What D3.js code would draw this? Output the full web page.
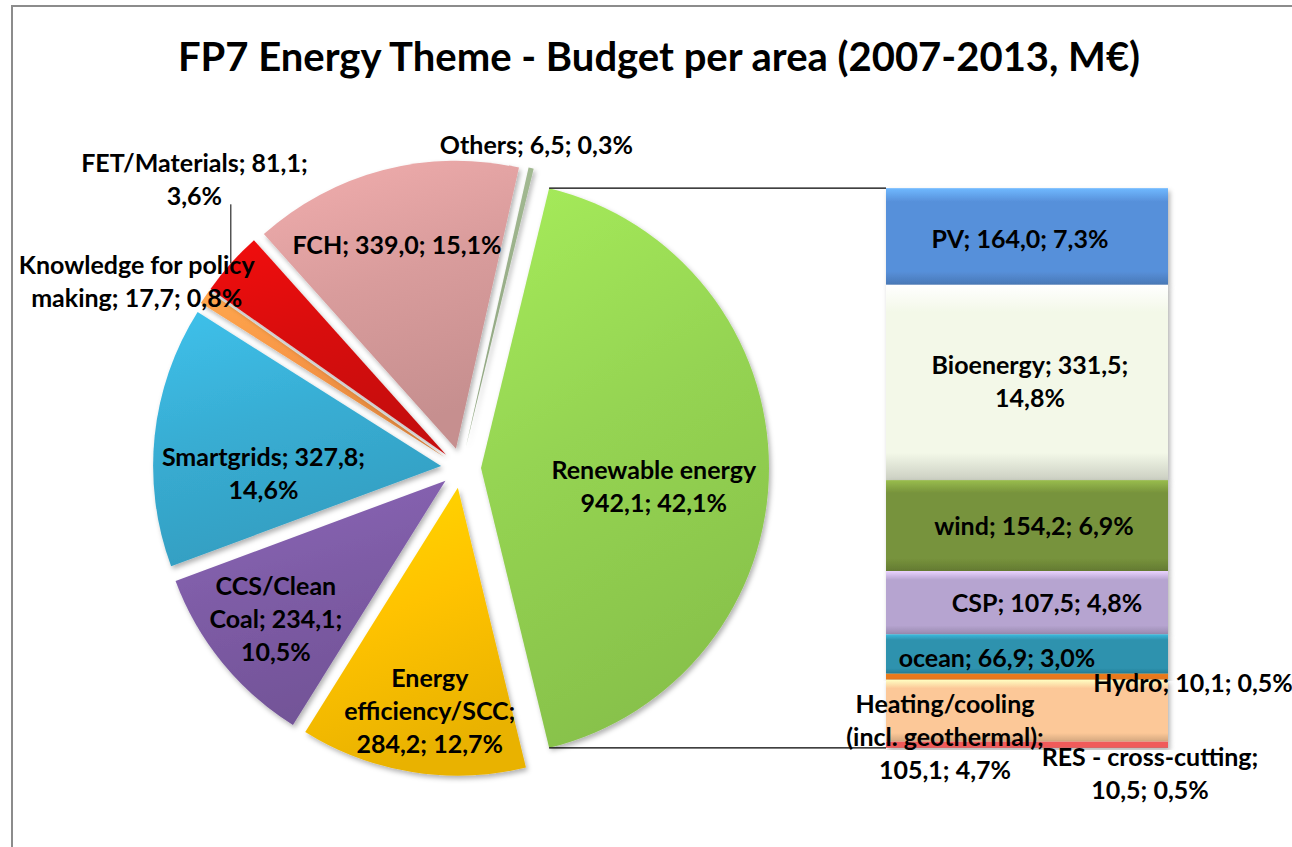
<!DOCTYPE html>
<html>
<head>
<meta charset="UTF-8">
<script src="https://d3js.org/d3.v7.min.js"></script>
<style>
  body { margin: 0; background: #fff; }
  text { font-family: Lato, "Open Sans", sans-serif; font-weight: bold; fill: #000; }
</style>
</head>
<body>
<div id="chart"></div>
<script>

// bar of the pie: breakdown of the renewable energy slice (M€)
var barNames  = ["PV", "Bioenergy", "wind", "CSP", "ocean", "Hydro", "Heating/cooling", "RES - cross-cutting"];
var barValues = [164.0, 331.5, 154.2, 107.5, 66.9, 10.1, 105.1, 10.5];
var barLabels = [
  ["PV; 164,0; 7,3%"],
  ["Bioenergy; 331,5;", "14,8%"],
  ["wind; 154,2; 6,9%"],
  ["CSP; 107,5; 4,8%"],
  ["ocean; 66,9; 3,0%"],
  ["Hydro; 10,1; 0,5%"],
  ["Heating/cooling", "(incl. geothermal);", "105,1; 4,7%"],
  ["RES - cross-cutting;", "10,5; 0,5%"]
];
var barColors = ["#5790DA", "#F3F8E8", "#77933C", "#B6A4D0", "#2E92AE", "#E8781C", "#FCC898", "#F05A5A"];

// pie slices, clockwise from the renewable slice (its size is the bar total)
var pieNames  = ["Renewable energy", "Energy efficiency/SCC", "CCS/Clean Coal", "Smartgrids",
                 "Knowledge for policy making", "FET/Materials", "FCH", "Others"];
var pieValues = [d3.sum(barValues), 284.2, 234.1, 327.8, 17.7, 81.1, 339.0, 6.5];
var pieLabels = [
  ["Renewable energy", "942,1; 42,1%"],
  ["Energy", "efficiency/SCC;", "284,2; 12,7%"],
  ["CCS/Clean", "Coal; 234,1;", "10,5%"],
  ["Smartgrids; 327,8;", "14,6%"],
  ["Knowledge for policy", "making; 17,7; 0,8%"],
  ["FET/Materials; 81,1;", "3,6%"],
  ["FCH; 339,0; 15,1%"],
  ["Others; 6,5; 0,3%"]
];
var pieColors = ["#95D452", "#FFC300", "#7E5CA6", "#38ADD3", "#F79646", "#D90F0F", "#D99C9C", "#9AB08A"];

var W = 1292, H = 847;
var cx = 461, cy = 468, R = 288, explode = 20;
var lineH = 33;

// label placement: fraction of radius along the slice middle, plus nudge
var pieLabelPos = [
  {f: 0.60, dx: 0, dy: 19},
  {f: 0.787, dx: 8, dy: 0},
  {f: 0.76, dx: 0, dy: 0},
  {f: 0.62, dx: 0, dy: 26},
  {f: 1.23, dx: -13, dy: 21},
  {f: 1.29, dx: 26, dy: -28},
  {f: 0.73, dx: -6, dy: 0},
  {f: 1.08, dx: 0, dy: 0}
];
var barLabelPos = [
  {dx: -7, dy: 3}, {dx: 3, dy: -1}, {dx: 7, dy: 1}, {dx: 20, dy: 1},
  {dx: -30, dy: 4}, {dx: 166, dy: 7}, {dx: -82, dy: 27}, {dx: 123, dy: 29}
];

var svg = d3.select("#chart").append("svg")
  .attr("width", W)
  .attr("height", H);

var defs = svg.append("defs");

var shadow = defs.append("filter").attr("id", "shadow")
  .attr("x", "-20%").attr("y", "-20%").attr("width", "140%").attr("height", "140%");
shadow.append("feDropShadow")
  .attr("dx", 2).attr("dy", 3).attr("stdDeviation", 2.5)
  .attr("flood-color", "#000").attr("flood-opacity", 0.3);

function sliceGrad(id, c) {
  var g = defs.append("linearGradient").attr("id", id)
    .attr("x1", 0).attr("y1", 0).attr("x2", 0.3).attr("y2", 1);
  g.append("stop").attr("offset", "0%").attr("stop-color", d3.color(c).brighter(0.3));
  g.append("stop").attr("offset", "50%").attr("stop-color", c);
  g.append("stop").attr("offset", "100%").attr("stop-color", d3.color(c).darker(0.25));
}
function barGrad(id, c) {
  var g = defs.append("linearGradient").attr("id", id)
    .attr("x1", 0).attr("y1", 0).attr("x2", 0).attr("y2", 1);
  g.append("stop").attr("offset", "0%").attr("stop-color", d3.color(c).brighter(0.7));
  g.append("stop").attr("offset", "14%").attr("stop-color", c);
  g.append("stop").attr("offset", "86%").attr("stop-color", c);
  g.append("stop").attr("offset", "100%").attr("stop-color", d3.color(c).darker(0.5));
}
pieColors.forEach(function(c, i) { sliceGrad("sg" + i, c); });
barColors.forEach(function(c, i) { barGrad("bg" + i, c); });

// chart area frame
svg.append("rect")
  .attr("x", 12).attr("y", 6)
  .attr("width", W + 20).attr("height", H + 20)
  .attr("fill", "none")
  .attr("stroke", "#8c8c8c")
  .attr("stroke-width", 2);

// title
svg.append("text")
  .attr("x", 659).attr("y", 57)
  .attr("dy", "0.35em")
  .attr("text-anchor", "middle")
  .style("font-size", "40px")
  .text("FP7 Energy Theme - Budget per area (2007-2013, M€)");

// pie
var a0 = 2 * Math.PI * pieValues[0] / d3.sum(pieValues);
var start = Math.PI / 2 - a0 / 2;
var pie = d3.pie().sort(null).startAngle(start).endAngle(start + 2 * Math.PI);
var arcs = pie(pieValues);
var arc = d3.arc().innerRadius(0).outerRadius(R);

function mid(d) { return (d.startAngle + d.endAngle) / 2; }
function polar(a, r) { return [Math.sin(a) * r, -Math.cos(a) * r]; }

var slices = svg.append("g").attr("transform", "translate(" + cx + "," + cy + ")");
slices.selectAll("path")
  .data(arcs)
  .enter()
  .append("path")
    .attr("transform", function(d) { var o = polar(mid(d), explode); return "translate(" + o[0] + "," + o[1] + ")"; })
    .attr("d", arc)
    .attr("fill", function(d, i) { return "url(#sg" + i + ")"; })
    .attr("filter", "url(#shadow)");

// bar
var ren = arcs[0];
var ro = polar(mid(ren), explode);
var pTop = polar(ren.startAngle, R), pBot = polar(ren.endAngle, R);
var topPt = [cx + ro[0] + pTop[0], cy + ro[1] + pTop[1]];
var botPt = [cx + ro[0] + pBot[0], cy + ro[1] + pBot[1]];

var barX = d3.scaleBand().domain(["Renewable energy"]).range([886, 1168]);
var barY = d3.scaleLinear().domain([0, d3.sum(barValues)]).range([topPt[1], botPt[1]]);
var cum = d3.cumsum(barValues);
var barData = barValues.map(function(v, i) { return {v: v, y0: cum[i] - v, y1: cum[i], i: i}; });

// series lines
svg.append("line")
  .attr("x1", topPt[0]).attr("y1", topPt[1])
  .attr("x2", barX("Renewable energy")).attr("y2", barY(0))
  .attr("stroke", "#000").attr("stroke-width", 1.2);
svg.append("line")
  .attr("x1", botPt[0]).attr("y1", botPt[1])
  .attr("x2", barX("Renewable energy")).attr("y2", barY(d3.sum(barValues)))
  .attr("stroke", "#000").attr("stroke-width", 1.2);

svg.append("g").selectAll("rect")
  .data(barData)
  .enter()
  .append("rect")
    .attr("x", barX("Renewable energy"))
    .attr("y", function(d) { return barY(d.y0); })
    .attr("width", barX.bandwidth())
    .attr("height", function(d) { return barY(d.y1) - barY(d.y0); })
    .attr("fill", function(d) { return "url(#bg" + d.i + ")"; })
    .attr("filter", "url(#shadow)");

// labels
function block(x, y, lines) {
  var t = svg.append("text")
    .attr("text-anchor", "middle")
    .style("font-size", "25px");
  lines.forEach(function(s, k) {
    t.append("tspan")
      .attr("x", x)
      .attr("y", y + (k - (lines.length - 1) / 2) * lineH)
      .attr("dy", "0.35em")
      .text(s);
  });
}

arcs.forEach(function(d, i) {
  var m = mid(d);
  var o = polar(m, explode), p = polar(m, pieLabelPos[i].f * R);
  var x = cx + o[0] + p[0] + pieLabelPos[i].dx;
  var y = cy + o[1] + p[1] + pieLabelPos[i].dy;
  block(x, y, pieLabels[i]);
  if (pieNames[i] == "FET/Materials") {
    // leader line from the label to the slice edge
    var e = polar(m, R);
    svg.append("line")
      .attr("x1", cx + o[0] + e[0]).attr("y1", y + lineH / 2 + 8)
      .attr("x2", cx + o[0] + e[0]).attr("y2", cy + o[1] + e[1])
      .attr("stroke", "#000").attr("stroke-width", 1);
  }
});

barData.forEach(function(d, i) {
  var x = barX("Renewable energy") + barX.bandwidth() / 2 + barLabelPos[i].dx;
  var y = (barY(d.y0) + barY(d.y1)) / 2 + barLabelPos[i].dy;
  block(x, y, barLabels[i]);
});

</script>
</body>
</html>
